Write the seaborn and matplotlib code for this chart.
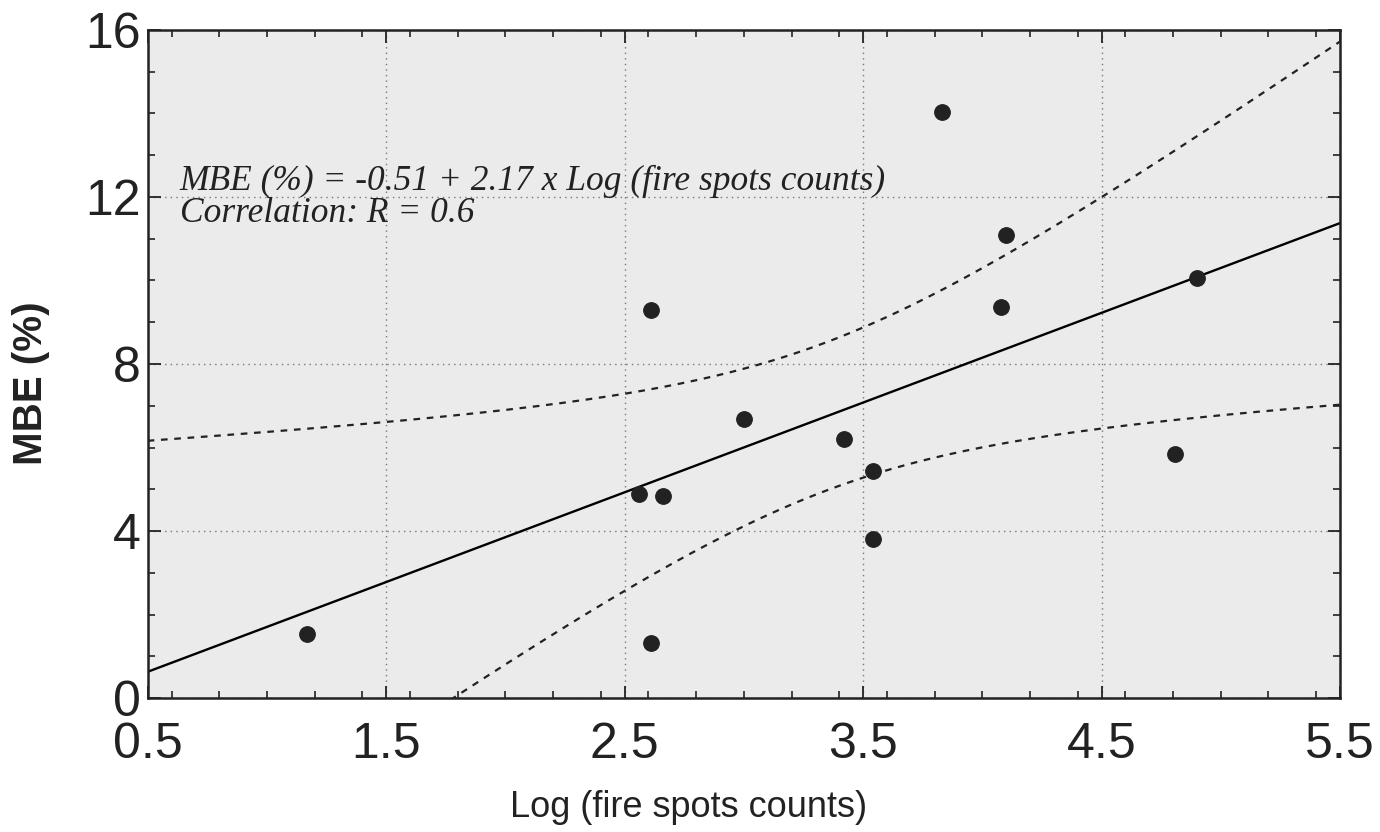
import numpy as np
import pandas as pd
import matplotlib
matplotlib.use("Agg")
import matplotlib.pyplot as plt
from matplotlib.ticker import MultipleLocator
import seaborn as sns

# data
log_counts = [1.17, 2.56, 2.66, 2.61, 2.61, 3.00, 3.42, 3.54, 3.54, 3.83, 4.10, 4.08, 4.81, 4.90]
mbe_pct    = [1.53, 4.89, 4.84, 9.29, 1.32, 6.68, 6.20, 5.44, 3.81, 14.04, 11.09, 9.37, 5.84, 10.06]
eq_text    = "MBE (%) = -0.51 + 2.17 x Log (fire spots counts)\nCorrelation: R = 0.6"
x_ticks    = [0.5, 1.5, 2.5, 3.5, 4.5, 5.5]
y_ticks    = [0, 4, 8, 12, 16]

df = pd.DataFrame({"x": log_counts, "y": mbe_pct})

# linear fit + 95% confidence band of the mean
n = len(df)
slope, icpt = np.polyfit(df.x, df.y, 1)
resid = df.y - (icpt + slope * df.x)
s = np.sqrt((resid ** 2).sum() / (n - 2))
sxx = ((df.x - df.x.mean()) ** 2).sum()
t_crit = 2.179  # t(0.975, df=12)
xs = np.linspace(0.5, 5.5, 200)
fit = icpt + slope * xs
half = t_crit * s * np.sqrt(1 / n + (xs - df.x.mean()) ** 2 / sxx)
band = pd.DataFrame({"x": xs, "fit": fit, "lo": fit - half, "hi": fit + half})

sns.set_style("ticks")
plt.rcParams["font.family"] = ["Liberation Sans", "DejaVu Sans"]

fig = plt.figure(figsize=(13.8, 8.32), dpi=100)
ax = fig.add_axes([0.107, 0.161, 0.864, 0.803])
ax.set_facecolor("#ebebeb")

sns.lineplot(data=band, x="x", y="fit", color="black", lw=1.7, ax=ax)
sns.lineplot(data=band, x="x", y="hi", color="#222222", lw=1.6, ax=ax,
             linestyle=(0, (3, 3)))
sns.lineplot(data=band, x="x", y="lo", color="#222222", lw=1.6, ax=ax,
             linestyle=(0, (3, 3)))
sns.scatterplot(data=df, x="x", y="y", color="#222222", s=125,
                edgecolor="#222222", zorder=5, ax=ax)

ax.text(0.634, 11.4, eq_text, family=["Liberation Serif"], style="italic",
        fontsize=25.5, color="#222222", linespacing=0.98, va="baseline")

ax.set_xlim(0.5, 5.5)
ax.set_ylim(0, 16)
ax.set_xticks(x_ticks)
ax.set_yticks(y_ticks)
ax.set_xticklabels([f"{v}" for v in x_ticks])
ax.xaxis.set_minor_locator(MultipleLocator(0.2))
ax.yaxis.set_minor_locator(MultipleLocator(1))
ax.tick_params(which="both", direction="in", top=True, right=True,
               color="#222222", labelcolor="#222222")
ax.tick_params(which="major", length=9, width=1.3, labelsize=36)
ax.tick_params(axis="x", which="major", pad=17)
ax.tick_params(axis="y", which="major", pad=5)
ax.tick_params(which="minor", length=5, width=1.2)
ax.grid(True, which="major", linestyle=(0, (1, 3)), color="#777777", lw=1.0)
for sp in ax.spines.values():
    sp.set_linewidth(1.8)
    sp.set_color("#222222")

ax.set_xlabel("Log (fire spots counts)", fontsize=26, color="#222222")
ax.xaxis.set_label_coords(0.454, -0.137)
ax.set_ylabel("MBE (%)", fontsize=29, fontweight="bold", color="#222222")
ax.yaxis.set_label_coords(-0.082, 0.471)

fig.savefig("out.png", dpi=100)
